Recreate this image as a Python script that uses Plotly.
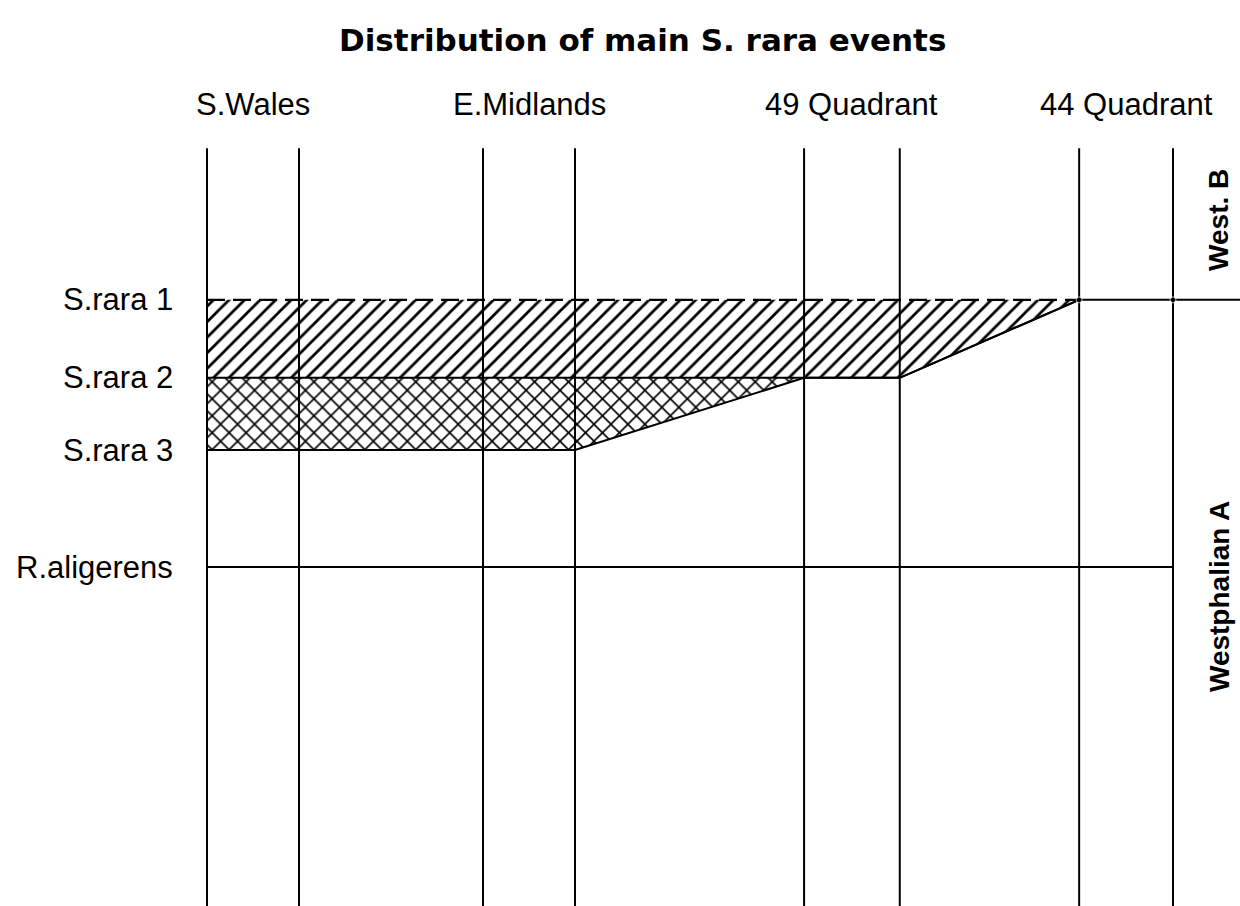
import plotly.graph_objects as go

# ---- data ----
localities = ["S.Wales", "E.Midlands", "49 Quadrant", "44 Quadrant"]
# horizontal position of each section line (two lines per locality)
section_x = [0, 1, 3, 4, 6.49, 7.53, 9.48, 10.5]
event_names = ["S.rara 1", "S.rara 2", "S.rara 3", "R.aligerens"]
event_label_level = [6.85, 4.85, 3.0, 0.0]
# levels of each event boundary at the section lines (first 7 lines)
srara1_level = [6.85, 6.85, 6.85, 6.85, 6.85, 6.85, 6.85]
srara2_level = [4.85, 4.85, 4.85, 4.85, 4.85, 4.85, 6.85]
srara3_level = [3.0, 3.0, 3.0, 3.0, 4.85, 4.85, 6.85]
raligerens_level = [0, 0, 0, 0, 0, 0, 0, 0]
srara1_solid_x = [9.48, 10.5, 11.5]
srara1_solid_y = [6.85, 6.85, 6.85]
section_top = 10.74
section_bottom = -12
stage_names = ["West. B", "Westphalian A"]
stage_mid_level = [8.9, -0.77]

fig = go.Figure()
lw = 2
# vertical section lines
for xv in section_x:
    fig.add_trace(go.Scatter(x=[xv, xv], y=[section_top, section_bottom], mode="lines",
                             line=dict(color="black", width=lw), hoverinfo="skip"))

n = len(srara3_level)
xs = section_x[:n]
# S.rara 3 boundary
fig.add_trace(go.Scatter(x=xs, y=srara3_level, mode="lines",
                         line=dict(color="black", width=lw), hoverinfo="skip"))
# S.rara 2 boundary with cross hatch down to S.rara 3
fig.add_trace(go.Scatter(x=xs, y=srara2_level, mode="lines", fill="tonexty",
                         fillcolor="rgba(0,0,0,0)",
                         fillpattern=dict(shape="x", size=12, solidity=0.25, fgopacity=1,
                                          fgcolor="black", bgcolor="rgba(255,255,255,0)"),
                         line=dict(color="black", width=lw), hoverinfo="skip"))
# S.rara 1 dashed boundary with diagonal hatch down to S.rara 2
fig.add_trace(go.Scatter(x=xs, y=srara1_level, mode="lines", fill="tonexty",
                         fillcolor="rgba(0,0,0,0)",
                         fillpattern=dict(shape="/", size=11, solidity=0.25, fgopacity=1,
                                          fgcolor="black", bgcolor="rgba(255,255,255,0)"),
                         line=dict(color="black", width=2.2, dash="18px,8px"), hoverinfo="skip"))
# S.rara 1 solid continuation
fig.add_trace(go.Scatter(x=srara1_solid_x, y=srara1_solid_y, mode="lines+markers",
                         marker=dict(size=[6, 6, 0], color="black"),
                         line=dict(color="black", width=lw), hoverinfo="skip"))
# R.aligerens
fig.add_trace(go.Scatter(x=section_x, y=raligerens_level, mode="lines",
                         line=dict(color="black", width=lw), hoverinfo="skip"))

annotations = []
fnt = "Liberation Sans, Arial, sans-serif"
annotations.append(dict(text="<b>Distribution of main S. rara events</b>", x=642 / 1240, y=1 - 40 / 906,
                        xref="paper", yref="paper", showarrow=False, xanchor="center", yanchor="middle",
                        font=dict(family="DejaVu Sans, sans-serif", size=31, color="black")))
for i, name in enumerate(localities):
    xm = (section_x[2 * i] + section_x[2 * i + 1]) / 2
    annotations.append(dict(text=name, x=xm, y=1 - 104 / 906, xref="x", yref="paper",
                            showarrow=False, xanchor="center", yanchor="middle",
                            font=dict(family=fnt, size=31, color="black")))
for name, lv in zip(event_names, event_label_level):
    annotations.append(dict(text=name, x=175 / 1240, y=lv, xref="paper", yref="y",
                            showarrow=False, xanchor="right", yanchor="middle",
                            font=dict(family=fnt, size=31, color="black")))
for name, lv in zip(stage_names, stage_mid_level):
    annotations.append(dict(text="<b>" + name + "</b>", x=1219 / 1240, y=lv, xref="paper", yref="y",
                            showarrow=False, xanchor="center", yanchor="middle", textangle=-90,
                            font=dict(family=fnt, size=28, color="black")))

fig.update_layout(
    width=1240, height=906,
    margin=dict(l=0, r=0, t=0, b=0),
    paper_bgcolor="white", plot_bgcolor="white",
    showlegend=False,
    xaxis=dict(range=[-207 / 92, (1240 - 207) / 92], visible=False, fixedrange=True),
    yaxis=dict(range=[(567 - 906) / 39, 567 / 39], visible=False, fixedrange=True),
    annotations=annotations,
)
fig.write_html("out.html", config={"displayModeBar": False},
               post_script="document.body.style.margin='0';document.body.style.overflow='hidden';")
